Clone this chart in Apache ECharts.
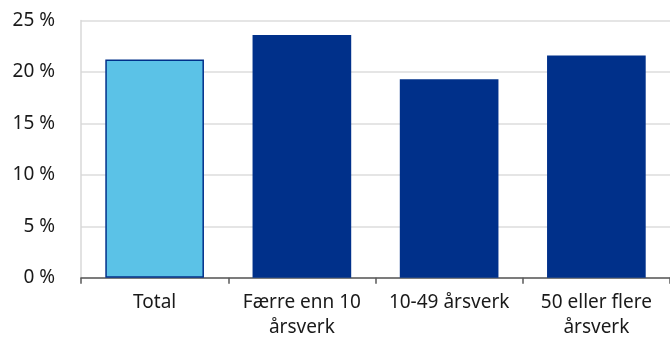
<!DOCTYPE html>
<html>
<head>
<meta charset="utf-8">
<script src="https://cdn.jsdelivr.net/npm/echarts@6/dist/echarts.min.js"></script>
<style>
  html, body { margin: 0; padding: 0; background: #fff; }
  #chart { width: 670px; height: 340px; }
</style>
</head>
<body>
<div id="chart"></div>
<script>
// Share by company size (percent)
const categories = ['Total', 'Færre enn 10\nårsverk', '10-49 årsverk', '50 eller flere\nårsverk'];
const values = [21.2, 23.6, 19.3, 21.6];
const yTicks = [0, 5, 10, 15, 20, 25];

const NAVY = '#00308a';
const LIGHT = '#5bc2e7';
const FONT = 'Noto Sans';

const chart = echarts.init(document.getElementById('chart'), null, { renderer: 'canvas' });

chart.setOption({
  animation: false,
  grid: { left: 81, right: -1, top: 20.5, bottom: 62.3, containLabel: false },
  xAxis: {
    type: 'category',
    data: categories,
    axisLine: { show: true, lineStyle: { color: '#595959', width: 1.5 } },
    axisTick: { show: true, alignWithLabel: false, length: 6, lineStyle: { color: '#595959', width: 1.5 } },
    axisLabel: {
      color: '#1a1a1a', fontFamily: FONT, fontSize: 19, lineHeight: 25, margin: 12, interval: 0
    }
  },
  yAxis: {
    type: 'value',
    min: yTicks[0],
    max: yTicks[yTicks.length - 1],
    interval: 5,
    axisLine: { show: true, lineStyle: { color: '#d9d9d9', width: 1.5 } },
    axisTick: { show: false },
    splitLine: { show: true, lineStyle: { color: '#dcdcdc', width: 1.5 } },
    axisLabel: {
      color: '#1a1a1a', fontFamily: FONT, fontSize: 19, margin: 26,
      formatter: v => v + ' %'
    }
  },
  series: [{
    type: 'bar',
    barWidth: '67%',
    data: values.map((v, i) => ({
      value: v,
      itemStyle: i === 0
        ? { color: LIGHT, borderColor: NAVY, borderWidth: 1.5 }
        : { color: NAVY }
    }))
  }]
});
</script>
</body>
</html>
